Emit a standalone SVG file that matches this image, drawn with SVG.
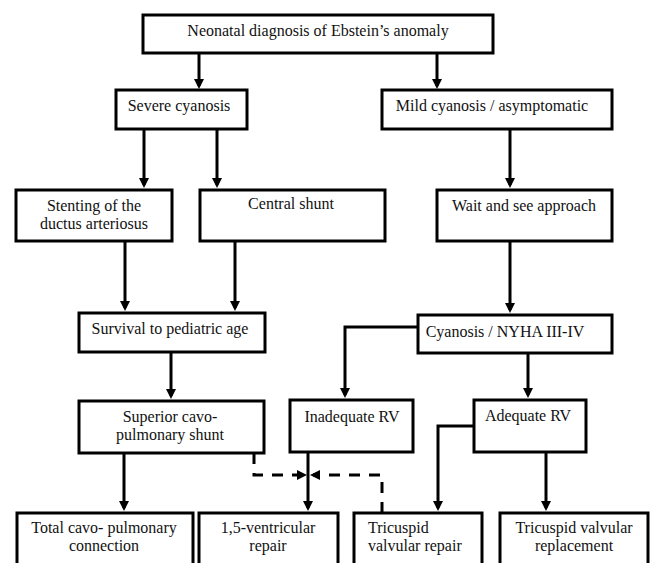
<svg xmlns="http://www.w3.org/2000/svg" width="651" height="563" viewBox="0 0 651 563">
<style>
.box{fill:#fff;stroke:#000;stroke-width:3}
.t{font-family:"Liberation Serif","Times New Roman",serif;font-size:16px;fill:#111;text-anchor:middle}
.l{text-anchor:start}
.c{fill:none;stroke:#000;stroke-width:3}
.d{stroke-dasharray:11 9}
</style>
<defs>
<marker id="arr" markerWidth="10" markerHeight="10" refX="7" refY="5" orient="auto" markerUnits="userSpaceOnUse"><path d="M0,0 L10,5 L0,10 z" fill="#000"/></marker>
</defs>
<rect width="651" height="563" fill="#fff"/>
<g id="connectors">
<path class="c" d="M199 53 V86" marker-end="url(#arr)"/>
<path class="c" d="M437 53 V86" marker-end="url(#arr)"/>
<path class="c" d="M144 129 V185" marker-end="url(#arr)"/>
<path class="c" d="M217 129 V185" marker-end="url(#arr)"/>
<path class="c" d="M510 129 V185" marker-end="url(#arr)"/>
<path class="c" d="M125 241 V308" marker-end="url(#arr)"/>
<path class="c" d="M235 241 V308" marker-end="url(#arr)"/>
<path class="c" d="M510 241 V310" marker-end="url(#arr)"/>
<path class="c" d="M171 352 V396" marker-end="url(#arr)"/>
<path class="c" d="M418 327 H345 V395" marker-end="url(#arr)"/>
<path class="c" d="M528 353 V395" marker-end="url(#arr)"/>
<path class="c" d="M124 453 V508" marker-end="url(#arr)"/>
<path class="c" d="M308 452 V508" marker-end="url(#arr)"/>
<path class="c" d="M474 426 H438 V508" marker-end="url(#arr)"/>
<path class="c" d="M546 452 V508" marker-end="url(#arr)"/>
<path class="c d" d="M254 453 V475 H304" marker-end="url(#arr)"/>
<path class="c d" d="M382 513 V475 H313" marker-end="url(#arr)"/>
</g>
<g id="n_top"><rect class="box" x="143" y="15" width="350" height="38"/><text class="t" x="318" y="36">Neonatal diagnosis of Ebstein’s anomaly</text></g>
<g id="n_severe"><rect class="box" x="116" y="90" width="131" height="39"/><text class="t" x="179" y="111">Severe cyanosis</text></g>
<g id="n_mild"><rect class="box" x="382" y="90" width="230" height="39"/><text class="t" x="492" y="111">Mild cyanosis / asymptomatic</text></g>
<g id="n_stenting"><rect class="box" x="16" y="190" width="156" height="51"/><text class="t" x="94" y="211">Stenting of the</text><text class="t" x="94" y="229">ductus arteriosus</text></g>
<g id="n_central"><rect class="box" x="200" y="190" width="185" height="51"/><text class="t" x="291" y="209">Central shunt</text></g>
<g id="n_wait"><rect class="box" x="437" y="190" width="175" height="51"/><text class="t" x="524" y="211">Wait and see approach</text></g>
<g id="n_survival"><rect class="box" x="79" y="313" width="186" height="39"/><text class="t" x="170" y="334">Survival to pediatric age</text></g>
<g id="n_nyha"><rect class="box" x="418" y="315" width="194" height="38"/><text class="t" x="505" y="337">Cyanosis / NYHA III-IV</text></g>
<g id="n_superior"><rect class="box" x="79" y="401" width="185" height="52"/><text class="t" x="170" y="422">Superior cavo-</text><text class="t" x="170" y="440">pulmonary shunt</text></g>
<g id="n_inadequate"><rect class="box" x="290" y="400" width="123" height="52"/><text class="t" x="352" y="422">Inadequate RV</text></g>
<g id="n_adequate"><rect class="box" x="474" y="400" width="112" height="52"/><text class="t" x="528" y="421">Adequate RV</text></g>
<g id="n_total"><rect class="box" x="17" y="513" width="176" height="70"/><text class="t" x="104" y="533">Total cavo- pulmonary</text><text class="t" x="104" y="551">connection</text></g>
<g id="n_onefive"><rect class="box" x="199" y="513" width="139" height="70"/><text class="t" x="268" y="533">1,5-ventricular</text><text class="t" x="268" y="551">repair</text></g>
<g id="n_tricrepair"><rect class="box" x="354" y="513" width="128" height="70"/><text class="t l" x="368" y="533">Tricuspid</text><text class="t l" x="368" y="551">valvular repair</text></g>
<g id="n_tricrepl"><rect class="box" x="500" y="513" width="148" height="70"/><text class="t" x="574" y="533">Tricuspid valvular</text><text class="t" x="574" y="551">replacement</text></g>
</svg>
